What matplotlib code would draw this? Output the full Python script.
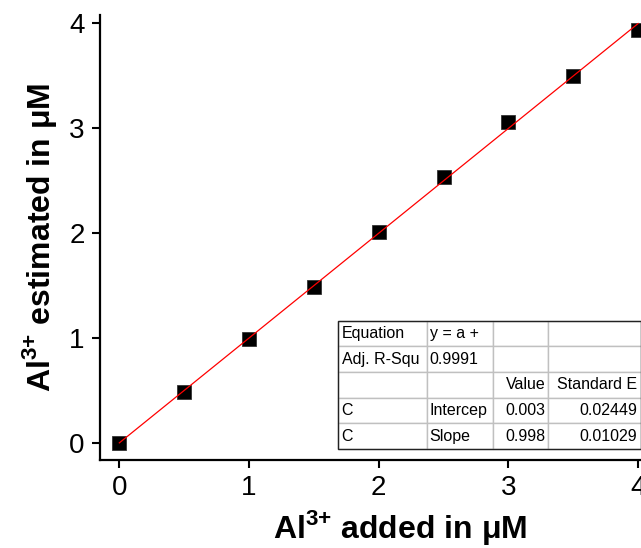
import numpy as np
import matplotlib
matplotlib.use("Agg")
import matplotlib.pyplot as plt
from matplotlib.patches import Rectangle

plt.rcParams['font.family'] = ['Liberation Sans', 'DejaVu Sans']
plt.rcParams['mathtext.fontset'] = 'custom'
plt.rcParams['mathtext.rm'] = 'Liberation Sans'
plt.rcParams['mathtext.bf'] = 'Liberation Sans:bold'

# --- datos de calibración ---
al_agregado = [0.0, 0.5, 1.0, 1.5, 2.0, 2.5, 3.0, 3.5, 4.0]
al_estimado = [0.0, 0.49, 0.99, 1.49, 2.01, 2.53, 3.06, 3.50, 3.93]

# ajuste lineal reportado
INTERCEPTO = 0.003
PENDIENTE = 0.998

filas_tabla = [
    ["Equation", "y = a +", "", ""],
    ["Adj. R-Squ", "0.9991", "", ""],
    ["", "", "Value", "Standard E"],
    ["C", "Intercep", "0.003", "0.02449"],
    ["C", "Slope", "0.998", "0.01029"],
]
alineacion = [
    ["left", "left", "left", "left"],
    ["left", "left", "left", "left"],
    ["left", "left", "right", "right"],
    ["left", "left", "right", "right"],
    ["left", "left", "right", "right"],
]

fig = plt.figure(figsize=(6.41, 5.48), dpi=100)
ax = fig.add_axes([0.156, 0.1606, 0.88, 0.812])

x_fit = np.array([0.0, 4.0])
ax.plot(x_fit, INTERCEPTO + PENDIENTE * x_fit, color='red', linewidth=0.9, zorder=3)
ax.plot(al_agregado, al_estimado, 's', color='black', markersize=10,
        markeredgecolor='#333333', markeredgewidth=0.6, zorder=2, clip_on=False)

ax.set_xlim(-0.149, 4.2)
ax.set_ylim(-0.16, 4.076)
ax.set_xticks([0, 1, 2, 3, 4])
ax.set_yticks([0, 1, 2, 3, 4])
ax.tick_params(direction='out', length=6, width=1.5, labelsize=20, pad=5)

for lado in ['top', 'right']:
    ax.spines[lado].set_visible(False)
for lado in ['left', 'bottom']:
    ax.spines[lado].set_linewidth(1.6)

# el "+" entre llaves evita el espaciado de operador binario
sup = r"$^{\mathbf{3}{\mathbf{+}}}$"
ax.set_xlabel("Al" + sup + " added in μM", fontsize=23, fontweight='bold')
ax.set_ylabel("Al" + sup + " estimated in μM", fontsize=23, fontweight='bold', labelpad=7)
ax.xaxis.set_label_coords(0.532, -0.108)

# tabla de resultados del ajuste
caja = [0.422, 0.025, 0.537, 0.288]
tabla = ax.table(cellText=filas_tabla, bbox=caja, colWidths=[89, 66, 55, 93])
tabla.auto_set_font_size(False)
for (r, c), celda in tabla.get_celld().items():
    celda.set_edgecolor('#c0c0c0')
    celda.set_linewidth(1.0)
    celda.set_facecolor('white')
    celda.get_text().set_fontsize(11.5)
    celda.get_text().set_ha(alineacion[r][c])
    celda._loc = alineacion[r][c]
    celda.PAD = 0.04
ax.add_patch(Rectangle(caja[:2], caja[2], caja[3], transform=ax.transAxes,
                       fill=False, edgecolor='#222222', linewidth=1.0, zorder=10))

plt.savefig('out.png', dpi=100)
